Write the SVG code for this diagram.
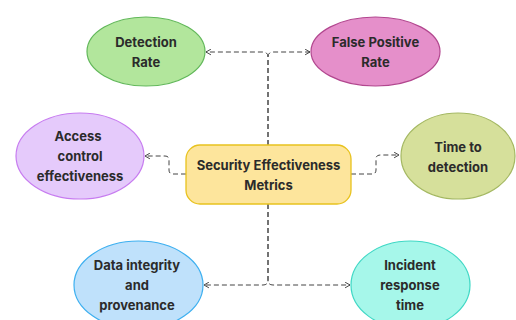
<svg xmlns="http://www.w3.org/2000/svg" width="516" height="320" viewBox="0 0 516 320">
<defs>
<marker id="arr" viewBox="0 0 10 10" refX="9" refY="5" markerWidth="7" markerHeight="7" orient="auto" markerUnits="userSpaceOnUse">
<path d="M2,1 L9,5 L2,9" fill="none" stroke="#333" stroke-width="1.3"/>
</marker>
<style>
.t{font-family:Inter,"Noto Sans",sans-serif;font-weight:700;font-size:13px;fill:#2b2b2b;text-anchor:middle;dominant-baseline:central}
.c{fill:none;stroke:#444;stroke-width:1;stroke-dasharray:5,3;marker-end:url(#arr)}
</style>
</defs>
<rect width="516" height="320" fill="#fff"/>
<g id="connectors">
<path class="c" d="M268,145 V57 Q268,52 263,52 H206"/>
<path class="c" d="M268,145 V57 Q268,52 273,52 H310"/>
<path class="c" d="M268,204 V280 Q268,285 263,285 H204"/>
<path class="c" d="M268,204 V280 Q268,285 273,285 H350"/>
<path class="c" d="M186,174 H173 Q169,174 169,170 V160 Q169,156 165,156 H145"/>
<path class="c" d="M351,174 H372 Q376,174 376,170 V159 Q376,155 380,155 H399"/>
</g>
<g id="center">
<rect x="186" y="145" width="165" height="59" rx="14" fill="#fde59c" stroke="#e8c21e" stroke-width="1.3"/>
<text class="t" x="268.5" y="165">Security Effectiveness</text>
<text class="t" x="268.5" y="185">Metrics</text>
</g>
<g id="detection-rate">
<ellipse cx="146" cy="51.5" rx="59" ry="34.5" fill="#b2e69c" stroke="#62b85a" stroke-width="1.2"/>
<text class="t" x="146" y="42">Detection</text>
<text class="t" x="146" y="62">Rate</text>
</g>
<g id="false-positive-rate">
<ellipse cx="375.5" cy="51.5" rx="64.5" ry="34.5" fill="#e58fca" stroke="#b2478f" stroke-width="1.2"/>
<text class="t" x="375.5" y="42">False Positive</text>
<text class="t" x="375.5" y="62">Rate</text>
</g>
<g id="access-control">
<ellipse cx="80" cy="156" rx="64" ry="43" fill="#e5cafb" stroke="#c77cf0" stroke-width="1.2"/>
<text class="t" x="78" y="136">Access</text>
<text class="t" x="80" y="156">control</text>
<text class="t" x="80" y="176">effectiveness</text>
</g>
<g id="time-to-detection">
<ellipse cx="458" cy="156" rx="57" ry="43" fill="#d6e09b" stroke="#a4b862" stroke-width="1.2"/>
<text class="t" x="458" y="147">Time to</text>
<text class="t" x="458" y="167">detection</text>
</g>
<g id="data-integrity">
<ellipse cx="138.5" cy="285" rx="64.5" ry="44" fill="#bfe1fb" stroke="#3eb0f0" stroke-width="1.2"/>
<text class="t" x="137" y="265">Data integrity</text>
<text class="t" x="137" y="285">and</text>
<text class="t" x="137" y="305">provenance</text>
</g>
<g id="incident-response">
<ellipse cx="410.5" cy="285" rx="59.5" ry="44" fill="#a6f7ea" stroke="#3fd8c5" stroke-width="1.2"/>
<text class="t" x="410" y="265">Incident</text>
<text class="t" x="410" y="285">response</text>
<text class="t" x="410" y="305">time</text>
</g>
</svg>
